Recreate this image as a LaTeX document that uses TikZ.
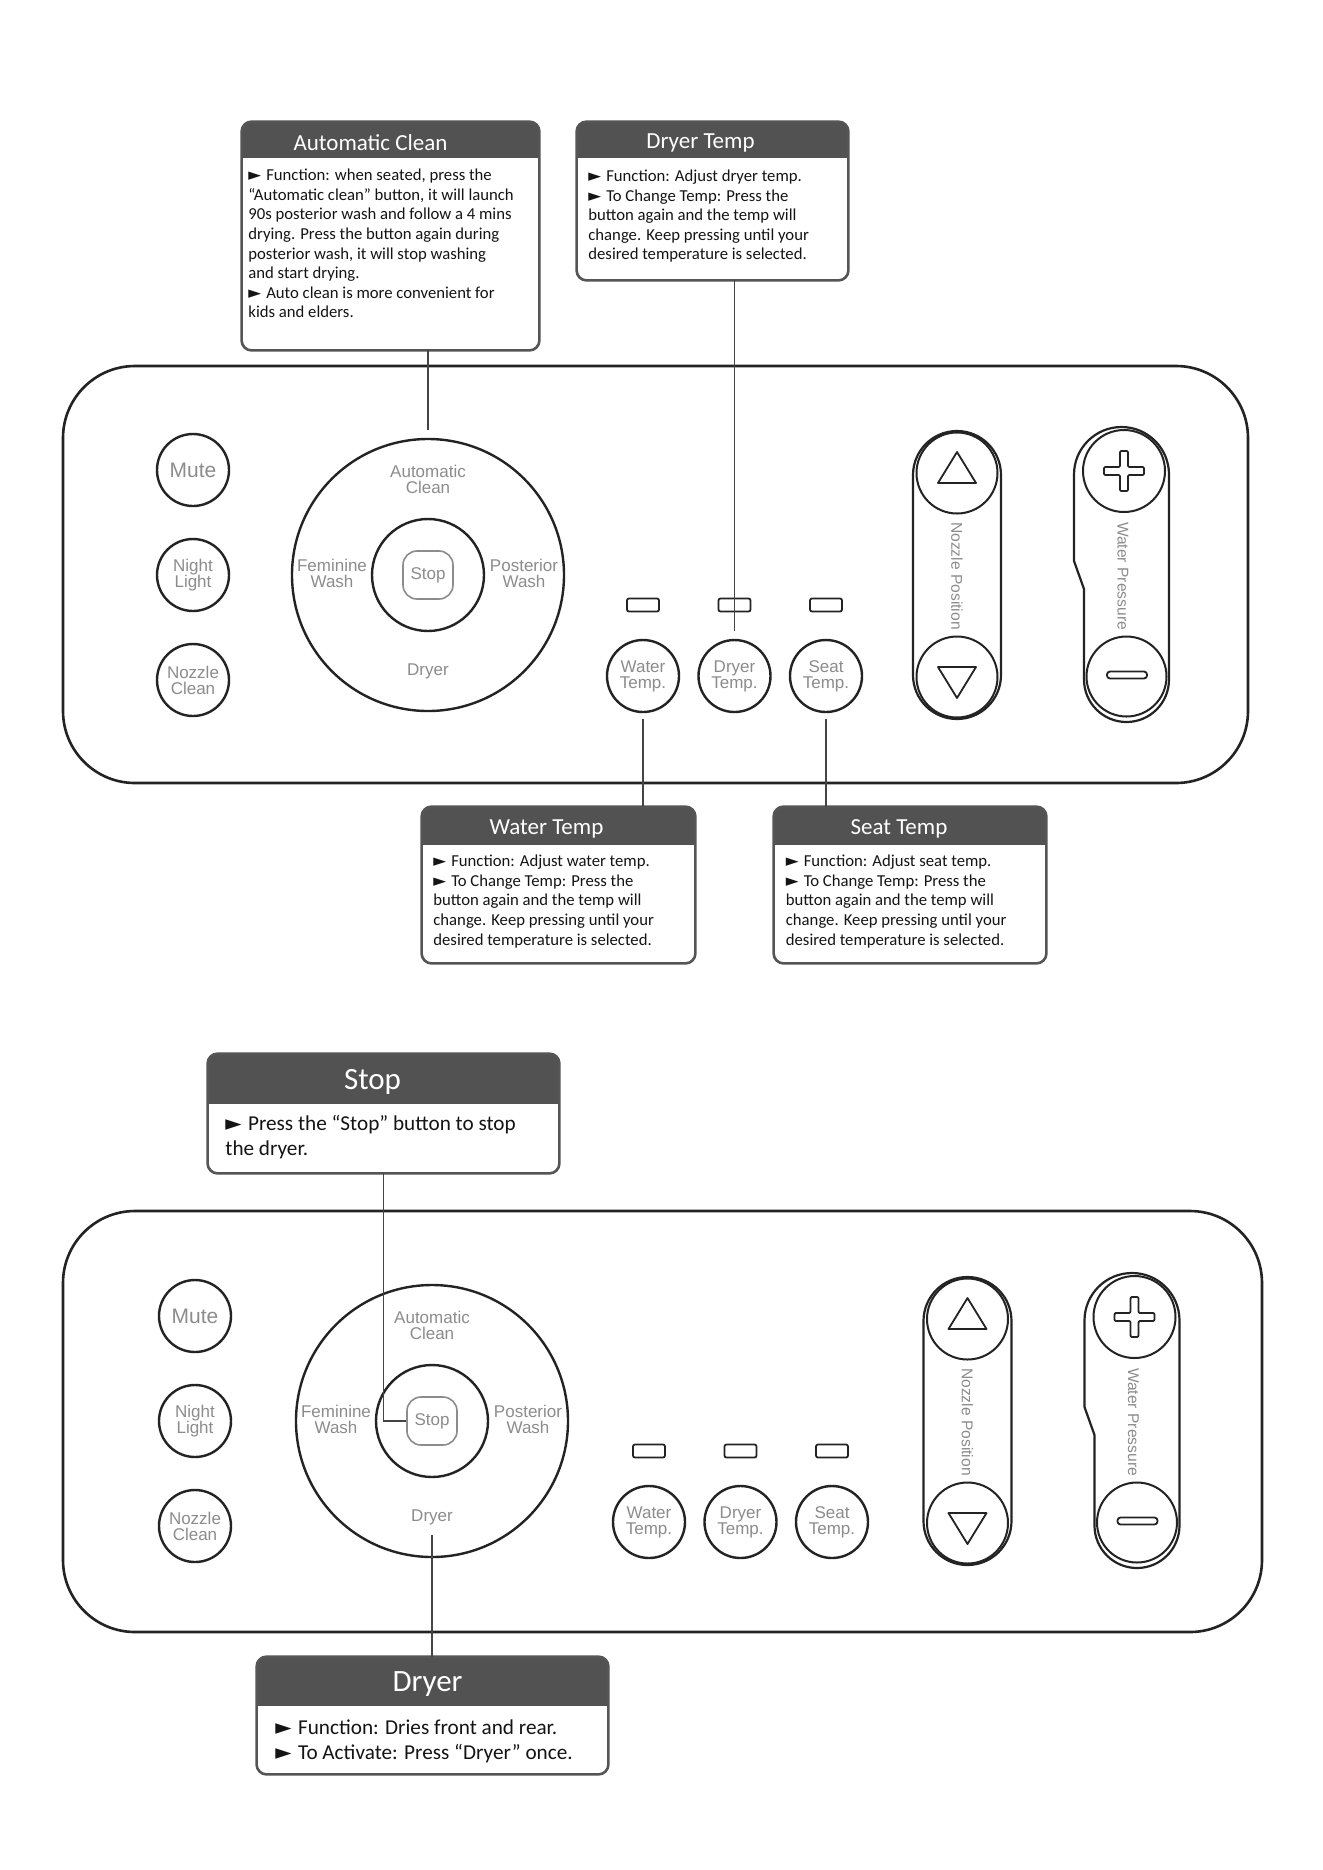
\documentclass[tikz,border=0pt]{standalone}
\usepackage{fontspec}
\setmainfont{Carlito}
\newfontfamily\panelfont{Liberation Sans}
\newfontfamily\symfont{DejaVu Sans}
\usetikzlibrary{calc,fit}

\definecolor{lc}{RGB}{35,35,35}
\definecolor{lblc}{RGB}{140,140,140}
\definecolor{headc}{RGB}{82,82,82}
\definecolor{boxc}{RGB}{85,85,85}
\definecolor{txtc}{RGB}{20,20,20}

\newcommand\tri{{\symfont\char"25BA}\hspace{0.3em}}
\newcommand\lblfont{\panelfont\fontsize{8.5}{8}\selectfont}
\newcommand\mutefont{\panelfont\fontsize{10.5}{12}\selectfont}
\newcommand\vertfont{\panelfont\fontsize{7.8}{9}\selectfont}
\newcommand\bodyA{\fontsize{8.35}{9.8}\selectfont}
\newcommand\bodyB{\fontsize{10.6}{12.5}\selectfont}
\newcommand\titleA{\fontsize{11.5}{13}\selectfont}
\newcommand\titleB{\fontsize{15.5}{17}\selectfont}

\tikzset{
  panelline/.style={draw=lc, line width=1.3pt},
  btn/.style={circle, draw=lc, line width=1.2pt, inner sep=0pt, minimum size=36pt,
    align=center, font=\lblfont, text=lblc},
  ring/.style={circle, draw=lc, line width=1pt, inner sep=0pt},
  lbl/.style={align=center, font=\lblfont, text=lblc, inner sep=0pt},
  stopbtn/.style={draw=lblc, line width=0.8pt, rounded corners=7pt, minimum width=25pt,
    minimum height=24pt, inner sep=0pt, font=\lblfont, text=lblc},
  led/.style={draw=lc, line width=0.9pt, rounded corners=1pt, minimum width=16pt,
    minimum height=6.5pt, inner sep=0pt},
  pill/.style={draw=lc, line width=1.1pt, minimum width=44pt, minimum height=144pt,
    rounded corners=22pt, inner sep=0pt},
  symline/.style={draw=lc, line width=0.9pt, line join=round},
  boxline/.style={draw=boxc, line width=1.3pt, rounded corners=5pt},
  conn/.style={draw=lc!85, line width=0.8pt},
  ttlA/.style={text=white, font=\titleA, inner sep=0pt},
  ttlB/.style={text=white, font=\titleB, inner sep=0pt},
  bodyA/.style={align=left, font=\bodyA, text=txtc, inner sep=0pt, anchor=north west},
  bodyB/.style={align=left, font=\bodyB, text=txtc, inner sep=0pt, anchor=north west},
}

% #1 name, #2 x1, #3 y1, #4 x2, #5 y2, #6 header height
\newcommand{\callout}[6]{%
  \node[fit={(#2,#3) (#4,#5)}, inner sep=0pt] (#1) {};
  \begin{scope}
    \clip[rounded corners=5pt] (#1.north west) rectangle (#1.south east);
    \fill[white] (#1.north west) rectangle (#1.south east);
    \fill[headc] (#1.north west) rectangle ($(#1.north east)+(0,#6)$);
  \end{scope}
  \draw[boxline] (#1.north west) rectangle (#1.south east);
}

% #1 prefix, #2 top, #3 right, #4 bottom, #5 left button x, #6 cx, #7 cy, #8 first temp x, #9 nozzle x
\newcommand{\ctrlpanel}[9]{%
  \draw[panelline, rounded corners=36pt] (63,#2) rectangle (#3,#4);
  \node[btn, font=\mutefont] (#1mute) at (#5,#7-105) {Mute};
  \node[btn] (#1night) at (#5,#7) {Night\\Light};
  \node[btn] (#1nclean) at (#5,#7+105) {Nozzle\\Clean};
  \node[ring, minimum size=136pt, line width=1.2pt] (#1big) at (#6,#7) {};
  \node[ring, minimum size=56pt, line width=1.2pt] (#1inner) at (#6,#7) {};
  \node[stopbtn] (#1stop) at (#6,#7) {Stop};
  \node[lbl] (#1auto) at (#6,#7-96) {Automatic\\Clean};
  \node[lbl] (#1fem) at (#6-96,#7-2) {Feminine\\Wash};
  \node[lbl] (#1post) at (#6+96,#7-2) {Posterior\\Wash};
  \node[lbl] (#1dry) at (#6,#7+96) {Dryer};
  \node[led] (#1led1) at (#8,#7+30) {};
  \node[led] (#1led2) at (#8+91.5,#7+30) {};
  \node[led] (#1led3) at (#8+183,#7+30) {};
  \node[btn] (#1wt) at (#8,#7+101) {Water\\Temp.};
  \node[btn] (#1dt) at (#8+91.5,#7+101) {Dryer\\Temp.};
  \node[btn] (#1st) at (#8+183,#7+101) {Seat\\Temp.};
  \node[pill] (#1npill) at (#9,#7) {};
  \node[ring, minimum size=40.5pt] (#1nup) at (#9,#7-102) {};
  \node[ring, minimum size=40.5pt] (#1ndown) at (#9,#7+102) {};
  \draw[symline] (#9,#7-123) -- (#9-19,#7-92) -- (#9+19,#7-92) -- cycle;
  \draw[symline] (#9,#7+123) -- (#9-19,#7+92) -- (#9+19,#7+92) -- cycle;
  \node[lbl, font=\vertfont, rotate=-90] (#1nlbl) at (#9,#7+1) {Nozzle Position};
  \draw[draw=lc, line width=1.1pt, line join=round] (#9+117,#7-100.5)
    arc[start angle=180, end angle=360, radius=47.5] -- (#9+212,#7+104.5)
    arc[start angle=0, end angle=180, radius=42.5] -- (#9+127,#7+14)
    -- (#9+117,#7-14) -- cycle;
  \node[ring, minimum size=41pt] (#1plus) at (#9+167,#7-104) {};
  \node[ring, minimum size=40pt] (#1minus) at (#9+169.5,#7+101.5) {};
  \begin{scope}[shift={(#9+167,#7-104)}]
    \draw[symline, rounded corners=0.6pt] (-4,-20) -- (4,-20) -- (4,-4) -- (20,-4) -- (20,4)
      -- (4,4) -- (4,20) -- (-4,20) -- (-4,4) -- (-20,4) -- (-20,-4) -- (-4,-4) -- cycle;
  \end{scope}
  \draw[symline, rounded corners=1.5pt] (#9+150,#7+96.5) rectangle (#9+190,#7+103.5);
  \node[lbl, font=\vertfont, rotate=-90] (#1plbl) at (#9+166,#7+1) {Water Pressure};
}

\begin{document}
\begin{tikzpicture}[x=0.5pt, y=-0.5pt]
  \useasboundingbox (0,0) rectangle (1323,1870);
  \fill[white] (0,0) rectangle (1323,1870);

  % ---------- top panel ----------
  \ctrlpanel{p}{366}{1248}{783}{193}{428}{575}{643}{957}

  \callout{acbox}{242}{122}{539}{350}{36}
  \node[ttlA] (actitle) at ($(acbox.north)+(-20,21)$) {Automatic Clean};
  \node[bodyA] (acbody) at (248,168.7) {\tri Function: when seated, press the\\
    “Automatic clean” button, it will launch\\
    90s posterior wash and follow a 4 mins\\
    drying. Press the button again during\\
    posterior wash, it will stop washing\\
    and start drying.\\
    \tri Auto clean is more convenient for\\
    kids and elders.};

  \callout{dtbox}{577}{122}{848}{280}{36}
  \node[ttlA] (dttitle) at ($(dtbox.north)+(-12,21)$) {Dryer Temp};
  \node[bodyA] (dtbody) at (588,169.4) {\tri Function: Adjust dryer temp.\\
    \tri To Change Temp: Press the\\
    button again and the temp will\\
    change. Keep pressing until your\\
    desired temperature is selected.};

  \callout{wtbox}{422}{807}{695}{963}{38}
  \node[ttlA] (wttitle) at ($(wtbox.north)+(-12,22)$) {Water Temp};
  \node[bodyA] (wtbody) at (433,854.7) {\tri Function: Adjust water temp.\\
    \tri To Change Temp: Press the\\
    button again and the temp will\\
    change. Keep pressing until your\\
    desired temperature is selected.};

  \callout{stbox}{774}{807}{1046}{963}{38}
  \node[ttlA] (sttitle) at ($(stbox.north)+(-11,22)$) {Seat Temp};
  \node[bodyA] (stbody) at (785.5,854.7) {\tri Function: Adjust seat temp.\\
    \tri To Change Temp: Press the\\
    button again and the temp will\\
    change. Keep pressing until your\\
    desired temperature is selected.};

  \draw[conn] (acbox.south -| pbig.north) -- ($(pbig.north)+(0,-8)$);
  \draw[conn] (dtbox.south -| pdt.north) -- ($(pdt.north)+(0,-8)$);
  \draw[conn] ($(pwt.south)+(0,6)$) -- (pwt.south |- wtbox.north);
  \draw[conn] ($(pst.south)+(0,6)$) -- (pst.south |- stbox.north);

  % ---------- bottom panel ----------
  \ctrlpanel{q}{1211}{1262}{1632}{195}{432}{1421}{649}{967.5}

  \callout{stopbox}{208}{1054}{559}{1173}{50}
  \node[ttlB] (stoptitle) at ($(stopbox.north)+(-11,28)$) {Stop};
  \node[bodyB] (stopbody) at (225,1115) {\tri Press the “Stop” button to stop\\
    the dryer.};

  \callout{drybox}{257}{1657}{608}{1774}{49}
  \node[ttlB] (drytitle) at ($(drybox.north)+(-5,27)$) {Dryer};
  \node[bodyB] (drybody) at (275,1719) {\tri Function: Dries front and rear.\\
    \tri To Activate: Press “Dryer” once.};

  \draw[conn] (stopbox.south) |- (qstop.west);
  \draw[conn] ($(qdry.south)+(0,10)$) -- (qdry.south |- drybox.north);
\end{tikzpicture}
\end{document}
